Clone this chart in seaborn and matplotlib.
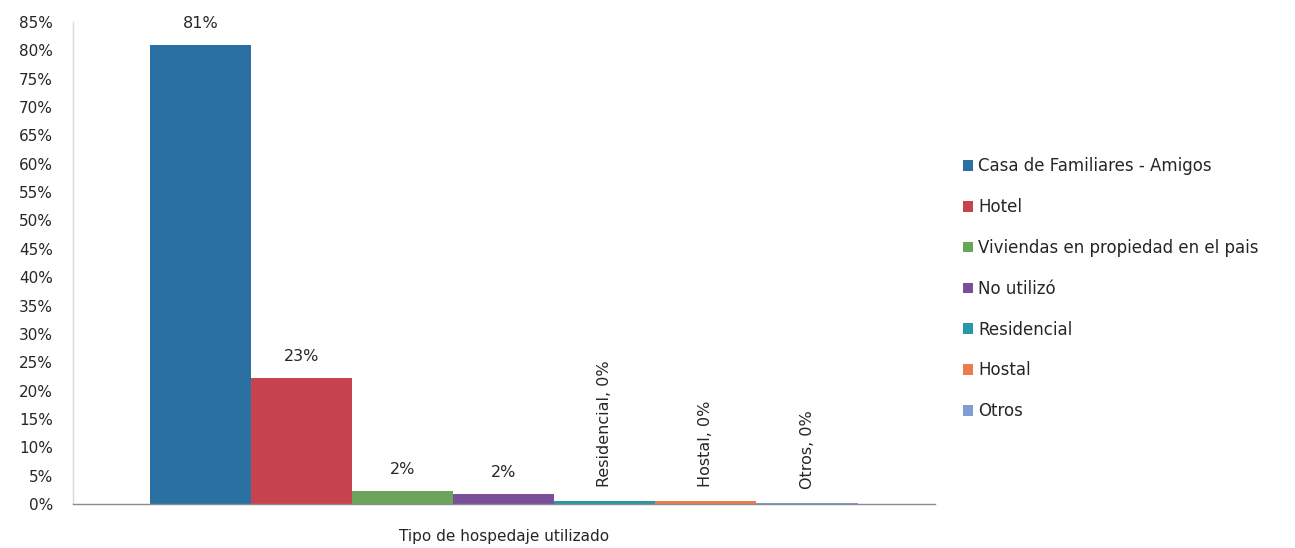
import pandas as pd
import matplotlib
matplotlib.use('Agg')
import matplotlib.pyplot as plt
import seaborn as sns

# --- data ---
categoria = 'Tipo de hospedaje utilizado'
tipos = ['Casa de Familiares - Amigos', 'Hotel', 'Viviendas en propiedad en el pais',
         'No utilizó', 'Residencial', 'Hostal', 'Otros']
valores = [0.81, 0.222, 0.023, 0.018, 0.005, 0.005, 0.002]
etiquetas = ['81%', '23%', '2%', '2%', 'Residencial, 0%', 'Hostal, 0%', 'Otros, 0%']
colores = ['#2a70a3', '#c6424d', '#6aa55a', '#7a4f9a', '#2a97a8', '#ec7c4c', '#7e9dd2']
yticks = [i / 100 for i in range(0, 90, 5)]

df = pd.DataFrame({'categoria': [categoria] * len(tipos), 'tipo': tipos, 'valor': valores})

sns.set_theme(style='white')
plt.rcParams['font.family'] = ['DejaVu Sans']

fig = plt.figure(figsize=(12.95, 5.48), dpi=100)
ax = fig.add_axes([0.056, 0.08, 0.666, 0.88])

sns.barplot(data=df, x='categoria', y='valor', hue='tipo', hue_order=tipos,
            palette=colores, saturation=1, errorbar=None, width=0.8,
            linewidth=0, ax=ax)

# data labels: horizontal for the big ones, rotated with name for the ~0% ones
for cont, lab in zip(ax.containers, etiquetas):
    if ',' in lab:
        ax.bar_label(cont, labels=[lab], padding=10, rotation=90, fontsize=11.5,
                     color='#262626')
    else:
        ax.bar_label(cont, labels=[lab], padding=10, fontsize=11.5, color='#262626')

ax.set_ylim(0, 0.85)
ax.set_xlim(-0.4875, 0.4875)
ax.set_yticks(yticks)
ax.set_yticklabels([f'{int(round(t * 100))}%' for t in yticks])
ax.set_xlabel('')
ax.set_ylabel('')
ax.tick_params(axis='y', length=0, pad=14, labelsize=11, labelcolor='#262626')
ax.tick_params(axis='x', length=0, pad=18, labelsize=11, labelcolor='#262626')

for s in ['top', 'right']:
    ax.spines[s].set_visible(False)
ax.spines['left'].set_color('#d9d9d9')
ax.spines['bottom'].set_color('#8c8c8c')
ax.spines['left'].set_linewidth(1)
ax.spines['bottom'].set_linewidth(1)

handles, labels = ax.get_legend_handles_labels()
ax.legend(handles, labels, loc='center left', bbox_to_anchor=(0.7374, 0.473),
          bbox_transform=fig.transFigure, frameon=False, fontsize=12,
          handlelength=0.6, handleheight=0.6, handletextpad=0.3,
          labelspacing=1.37, borderpad=0, labelcolor='#262626')

fig.savefig('out.png', dpi=100)
